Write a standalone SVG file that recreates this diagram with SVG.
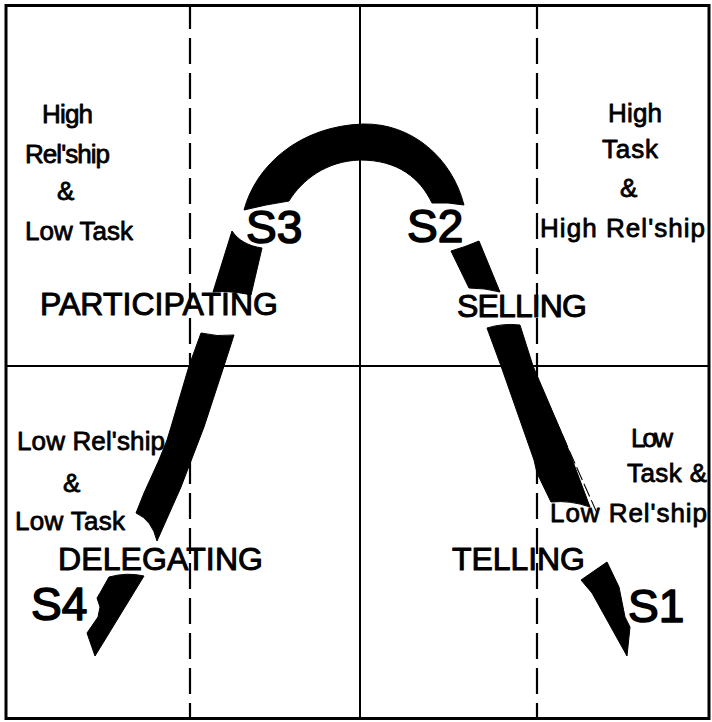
<svg xmlns="http://www.w3.org/2000/svg" width="712" height="722" viewBox="0 0 712 722">
<style>
.frame{fill:none;stroke:#000;stroke-width:3}
.solid{stroke:#000;stroke-width:2;fill:none}
.dash{stroke:#000;stroke-width:2.2;fill:none;stroke-dasharray:26 9;stroke-dashoffset:3}
.thin{stroke:#000;stroke-width:1.1;fill:none;stroke-dasharray:14 4}
.band{fill:#000;stroke:#000;stroke-width:1;stroke-linejoin:round}
text{font-family:"Liberation Sans",Arial,Helvetica,sans-serif;fill:#000;stroke:#000;stroke-linejoin:round}
.sm{font-size:26px;stroke-width:0.8}
.lg{font-size:32px;stroke-width:1}
.st{font-size:46px;stroke-width:1.6}
</style>
<rect width="712" height="722" fill="#fff"/>
<g id="grid">
<rect class="frame" x="6" y="5.5" width="703" height="713"/>
<line class="solid" x1="360" y1="6" x2="360" y2="718"/>
<line class="solid" x1="6" y1="366" x2="709" y2="366"/>
<line class="dash" x1="190" y1="6" x2="190" y2="718"/>
<line class="dash" x1="537" y1="6" x2="537" y2="718"/>
</g>
<g id="connectors">
<path class="band" d="M244,210 C256,165 300,126 363,124 C412,123 452,158 464,205 L448,203 L432,203 C420,178 398,160 360,160 C326,161 302,180 289,201 L266,205 Z"/>
<path class="band" d="M232,231 C238,240 248,246 262,248 L251,295 C238,292 226,291 213,292 Z"/>
<path class="band" d="M201,333 Q217,337 234,335 L224,366 L204,427 L181,487 L157,541 Q152,520 136,513 L144,493 L159,460 L167,440 L171,427 L181,393 L189,366 Z"/>
<path class="band" d="M109,577 Q127,572 144,576 L95,656 L87,633 L98,617 L100,607 L97,598 L100,593 Z"/>
<path class="band" d="M451,251 Q465,247 479,241 L500,292 Q485,288 469,288 Z"/>
<path class="band" d="M487,328 Q503,323 520,325 L533,366 L566,443 L590,507 Q570,500 551,502 L537,473 L534,460 L501,366 Z"/>
<path class="band" d="M581,580 L607,562 L619,587 L625,617 L630,627 L627,656 L592,593 Z"/>
<line class="thin" x1="540" y1="385" x2="597" y2="513"/>
</g>
<g id="participating">
<text class="sm" x="42" y="123" textLength="51">High</text>
<text class="sm" x="25" y="163" textLength="85">Rel'ship</text>
<text class="sm" x="57" y="200">&amp;</text>
<text class="sm" x="25" y="240" textLength="108">Low Task</text>
<text class="lg" x="40" y="315" textLength="238">PARTICIPATING</text>
<text class="st" x="246" y="243">S3</text>
</g>
<g id="selling">
<text class="sm" x="608" y="122" textLength="54">High</text>
<text class="sm" x="602" y="158" textLength="56">Task</text>
<text class="sm" x="620" y="197">&amp;</text>
<text class="sm" x="540" y="237" textLength="165">High Rel'ship</text>
<text class="lg" x="457" y="317" textLength="130">SELLING</text>
<text class="st" x="407" y="242">S2</text>
</g>
<g id="delegating">
<text class="sm" x="17" y="450" textLength="148">Low Rel'ship</text>
<text class="sm" x="63" y="492">&amp;</text>
<text class="sm" x="15" y="530" textLength="110">Low Task</text>
<text class="lg" x="58" y="570" textLength="205">DELEGATING</text>
<text class="st" x="31" y="620">S4</text>
</g>
<g id="telling">
<text class="sm" x="631" y="447" textLength="42">Low</text>
<text class="sm" x="627" y="482" textLength="80">Task &amp;</text>
<text class="sm" x="550" y="522" textLength="157">Low Rel'ship</text>
<text class="lg" x="452" y="570" textLength="133">TELLING</text>
<text class="st" x="628" y="622">S1</text>
</g>
</svg>
